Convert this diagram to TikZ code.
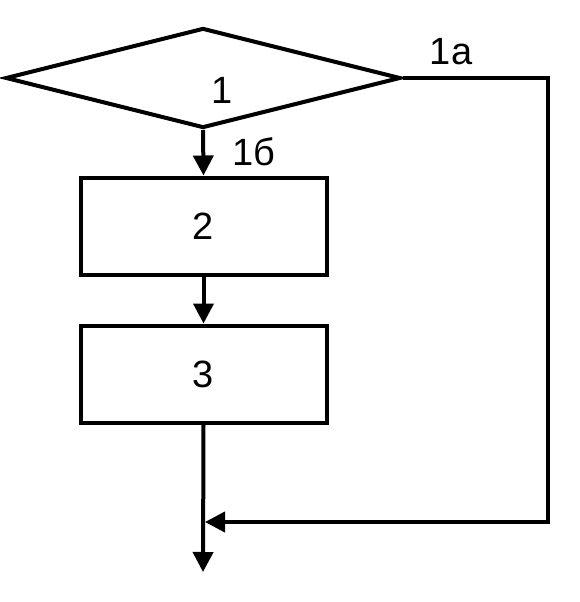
\documentclass[tikz,border=0pt]{standalone}
\usepackage{fontspec}
\setmainfont{Liberation Sans}
\usetikzlibrary{shapes.geometric, arrows.meta}

\begin{document}
\begin{tikzpicture}[x=1pt, y=-1pt, line width=4pt,
    >={Triangle[length=20pt, width=20pt]},
    cond/.style={draw, diamond, minimum width=395pt, minimum height=100pt, inner sep=0pt},
    block/.style={draw, rectangle, minimum width=246pt, minimum height=97pt, font=\fontsize{38}{40}\selectfont},
    lbl/.style={font=\fontsize{38}{40}\selectfont, inner sep=0pt}]
  \useasboundingbox (0,0) rectangle (579,602);

  % Условие и блоки
  \node[cond] (c1) at (203,78) {};
  \node[lbl] (t1) at (222,90) {1};
  \node[block] (b2) at (203.5,226) {2};
  \node[block] (b3) at (203.5,374) {3};

  % Метки выходов
  \node[lbl] (ta) at (451,52) {1a};
  \node[lbl] (tb) at (254,152) {1б};

  % Свободные концы
  \coordinate (e1) at (548,78);
  \coordinate (e2) at (548,522);
  \coordinate (j) at (203,522);
  \coordinate (out) at (203,572);

  % Связи
  \draw[->] (c1.south) -- (b2.north);
  \draw[->] (b2.south) -- (b3.north);
  \draw[->] (b3.south) -- (out);
  \draw[->] (c1.east) -- (e1) -- (e2) -- ([xshift=2pt]j);
\end{tikzpicture}
\end{document}
